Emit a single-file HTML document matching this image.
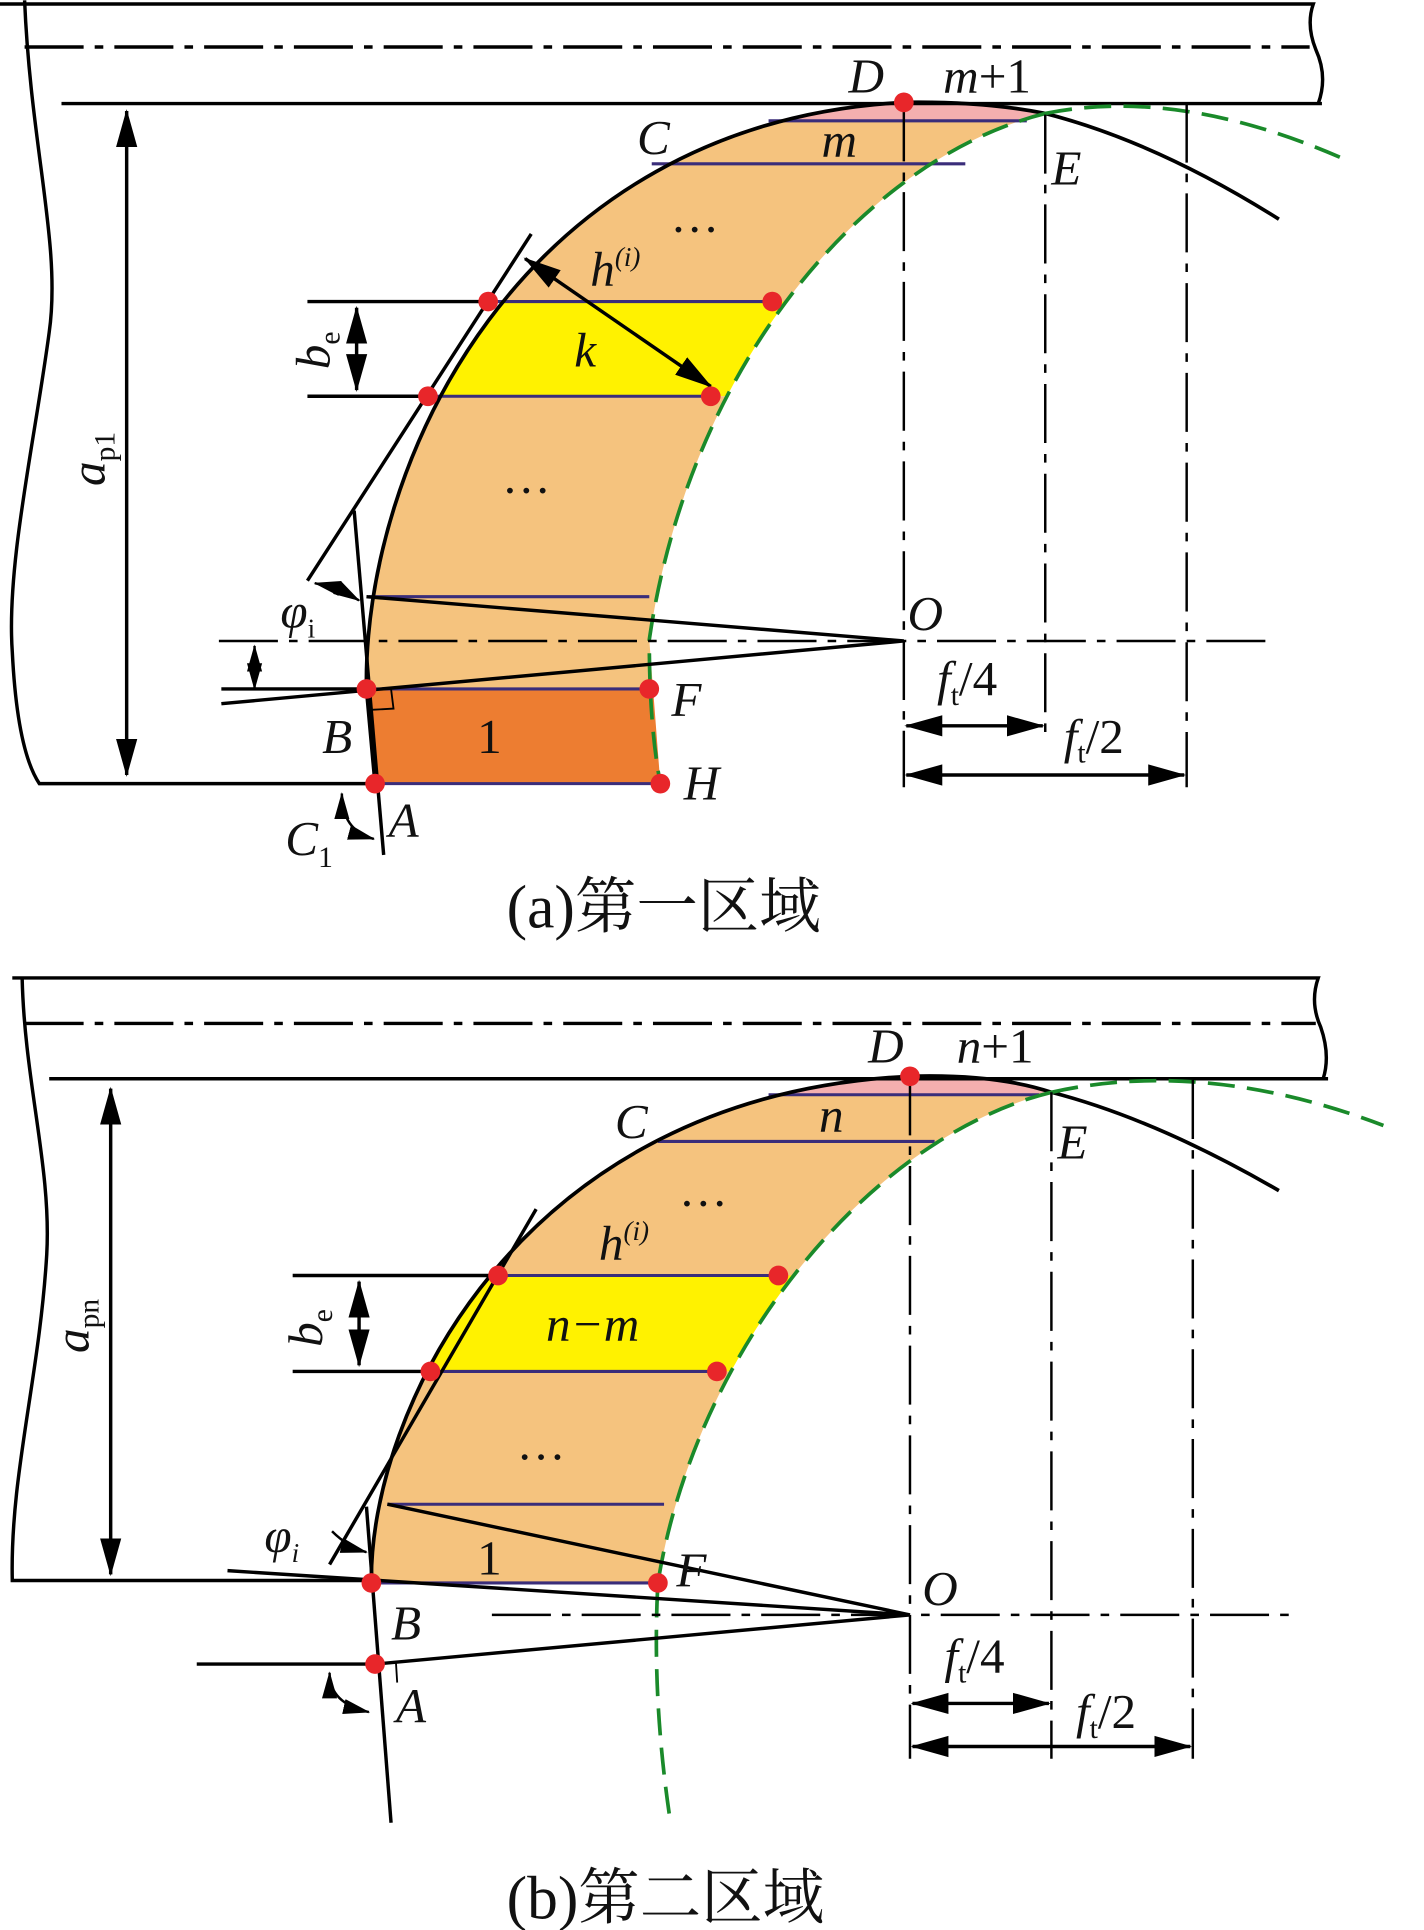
<!DOCTYPE html>
<html><head><meta charset="utf-8"><style>
html,body{margin:0;padding:0;background:#fff}
svg{display:block}
text{font-family:"Liberation Serif","Noto Serif CJK SC",serif;fill:#111}
.it{font-style:italic}
</style></head><body>
<svg width="1424" height="1930" viewBox="0 0 1158 1569" xmlns="http://www.w3.org/2000/svg">
<defs>
<marker id="ar" viewBox="0 0 10 10" refX="9.5" refY="5" markerWidth="11" markerHeight="11" orient="auto-start-reverse"><path d="M0,2.2 L10,5 L0,7.8 Z" fill="#000"/></marker>
<clipPath id="ca"><path d="M305,637 L298,560 C295,380 420,100 735,83 Q800,82 850,92 C700,130 560,300 528,520 L537,637 Z"/></clipPath>
<clipPath id="cb"><path d="M302,1287 C300,1150 420,890 740,875 Q810,873 855,888 C705,925 565,1100 535,1287 Z"/></clipPath>
</defs>
<g stroke="#000" stroke-width="2.8" fill="none">
<g clip-path="url(#ca)" stroke="none">
<rect x="250" y="70" width="650" height="28" fill="#F4AFAF"/>
<rect x="250" y="98" width="650" height="147" fill="#F5C37E"/>
<rect x="250" y="245" width="650" height="77" fill="#FFF200"/>
<rect x="250" y="322" width="650" height="238" fill="#F5C37E"/>
<rect x="250" y="560" width="650" height="80" fill="#ED7D31"/>
</g>
<path d="M0,3 H1068 Q1062,20 1070,40 Q1080,62 1072,84"/>
<path d="M20,38 H1065" stroke-dasharray="48,9,7,9"/>
<path d="M50,84 H1075"/>
<path d="M20,0 C25,120 50,200 40,270 C28,360 5,460 10,530 Q14,610 32,637 H305"/>
<path d="M103,90 V630" marker-start="url(#ar)" marker-end="url(#ar)"/>
<g stroke="#3a2d7a" stroke-width="2.5">
<path d="M625,98 H835 M530,133 H785 M395,245 H628 M348,322 H578 M300,485 H528 M298,560 H528 M305,637 H537"/>
</g>
<path d="M305,637 L298,560 C295,380 420,100 735,83 Q800,82 850,92 Q940,115 1040,178" stroke-width="3"/>
<path d="M850,92 C700,130 560,300 528,520 Q528,590 537,637 M850,92 Q960,70 1095,130" stroke="#1a8a2a" stroke-width="3" stroke-dasharray="22,10"/>
<path d="M735,83 V640 M850,93 V600 M965,84 V640" stroke-width="2" stroke-dasharray="48,9,7,9"/>
<path d="M178,521 H1030" stroke-width="2" stroke-dasharray="48,9,7,9"/>
<path d="M432,190 L250,472"/>
<path d="M288,415 L312,695"/>
<path d="M298,485 L735,521 M180,572 L735,521"/>
<path d="M180,560 H298"/>
<path d="M207,525 V560" stroke-width="2" marker-start="url(#ar)" marker-end="url(#ar)"/>
<path d="M256,474 Q275,478 292,488" stroke-width="2" marker-start="url(#ar)" marker-end="url(#ar)"/>
<path d="M300,560 L318,560 L320,576 L302,577" stroke-width="1.5"/>
<path d="M278,645 Q278,675 304,682" stroke-width="2" marker-start="url(#ar)" marker-end="url(#ar)"/>
<path d="M250,245 H395 M250,322 H348"/>
<path d="M290,250 V317" marker-start="url(#ar)" marker-end="url(#ar)"/>
<path d="M427,210 L578,314" marker-start="url(#ar)" marker-end="url(#ar)"/>
<path d="M737,590 H848" marker-start="url(#ar)" marker-end="url(#ar)"/>
<path d="M737,630 H963" marker-start="url(#ar)" marker-end="url(#ar)"/>
<g clip-path="url(#cb)" stroke="none">
<rect x="250" y="860" width="650" height="30" fill="#F4AFAF"/>
<rect x="250" y="890" width="650" height="147" fill="#F5C37E"/>
<rect x="250" y="1037" width="650" height="78" fill="#FFF200"/>
<rect x="250" y="1115" width="650" height="175" fill="#F5C37E"/>
</g>
<path d="M10,795 H1072 Q1065,815 1074,835 Q1082,858 1076,877"/>
<path d="M20,832 H1070" stroke-dasharray="48,9,7,9"/>
<path d="M40,877 H1080"/>
<path d="M18,795 C20,880 42,950 38,1020 C32,1120 8,1200 10,1285 H300"/>
<path d="M90,885 V1280" marker-start="url(#ar)" marker-end="url(#ar)"/>
<g stroke="#3a2d7a" stroke-width="2.5">
<path d="M625,890 H845 M535,928 H760 M405,1037 H633 M350,1115 H583 M315,1223 H540 M302,1287 H535"/>
</g>
<path d="M302,1287 C300,1150 420,890 740,875 Q810,873 855,888 Q940,910 1040,968" stroke-width="3"/>
<path d="M855,888 C705,925 565,1100 535,1287 Q530,1380 545,1480 M855,888 Q980,860 1125,915" stroke="#1a8a2a" stroke-width="3" stroke-dasharray="22,10"/>
<path d="M740,875 V1430 M855,888 V1430 M970,878 V1430" stroke-width="2" stroke-dasharray="48,9,7,9"/>
<path d="M400,1313 H1050" stroke-width="2" stroke-dasharray="48,9,7,9"/>
<path d="M436,983 L268,1272"/>
<path d="M298,1225 L318,1482"/>
<path d="M315,1223 L740,1313 M185,1277 L740,1313 M305,1353 L740,1313"/>
<path d="M160,1353 H305"/>
<path d="M305,1353 L322,1352 L323,1368" stroke-width="1.5"/>
<path d="M268,1360 Q268,1385 300,1392" stroke-width="2" marker-start="url(#ar)" marker-end="url(#ar)"/>
<path d="M270,1245 Q283,1258 298,1262" stroke-width="2" marker-end="url(#ar)"/>
<path d="M238,1037 H405 M238,1115 H350"/>
<path d="M292,1042 V1110" marker-start="url(#ar)" marker-end="url(#ar)"/>
<path d="M742,1385 H853" marker-start="url(#ar)" marker-end="url(#ar)"/>
<path d="M742,1420 H968" marker-start="url(#ar)" marker-end="url(#ar)"/>
</g>
<g fill="#e8262a">
<circle cx="735" cy="83" r="8"/><circle cx="397" cy="245" r="8"/><circle cx="628" cy="245" r="8"/>
<circle cx="348" cy="322" r="8"/><circle cx="578" cy="322" r="8"/><circle cx="298" cy="560" r="8"/>
<circle cx="528" cy="560" r="8"/><circle cx="305" cy="637" r="8"/><circle cx="537" cy="637" r="8"/>
<circle cx="740" cy="875" r="8"/><circle cx="405" cy="1037" r="8"/><circle cx="633" cy="1037" r="8"/>
<circle cx="350" cy="1115" r="8"/><circle cx="583" cy="1115" r="8"/><circle cx="302" cy="1287" r="8"/>
<circle cx="535" cy="1287" r="8"/><circle cx="305" cy="1353" r="8"/>
</g>
<g font-size="40">
<text x="690" y="75" class="it">D</text><text x="767" y="75"><tspan class="it">m</tspan>+1</text>
<text x="518" y="125" class="it">C</text><text x="668" y="127" class="it">m</text>
<text x="855" y="150" class="it">E</text>
<text x="480" y="232" class="it">h<tspan font-size="22" dy="-16">(i)</tspan></text><text x="545" y="200">···</text>
<text x="467" y="298" class="it">k</text>
<text x="408" y="412">···</text>
<text x="738" y="512" class="it">O</text>
<text x="546" y="582" class="it">F</text>
<text x="556" y="650" class="it">H</text>
<text x="262" y="612" class="it">B</text>
<text x="388" y="612">1</text>
<text x="316" y="680" class="it">A</text>
<text x="232" y="695" class="it">C<tspan font-size="24" dy="10" font-style="normal">1</tspan></text>
<text x="228" y="510" class="it">φ<tspan font-size="22" dy="8" font-style="normal">i</tspan></text>
<text x="762" y="565" class="it">f<tspan font-size="24" dy="8" font-style="normal">t</tspan><tspan dy="-8" font-style="normal">/4</tspan></text>
<text x="865" y="612" class="it">f<tspan font-size="24" dy="8" font-style="normal">t</tspan><tspan dy="-8" font-style="normal">/2</tspan></text>
<text transform="translate(268,300) rotate(-90)" class="it">b<tspan font-size="24" dy="8" font-style="normal">e</tspan></text>
<text transform="translate(85,395) rotate(-90)" class="it">a<tspan font-size="24" dy="8" font-style="normal">p1</tspan></text>
<text x="706" y="864" class="it">D</text><text x="778" y="864"><tspan class="it">n</tspan>+1</text>
<text x="500" y="925" class="it">C</text><text x="666" y="920" class="it">n</text>
<text x="860" y="942" class="it">E</text>
<text x="487" y="1024" class="it">h<tspan font-size="22" dy="-16">(i)</tspan></text><text x="552" y="992">···</text>
<text x="444" y="1090" class="it">n−m</text>
<text x="420" y="1198">···</text>
<text x="388" y="1280">1</text>
<text x="550" y="1290" class="it">F</text>
<text x="750" y="1305" class="it">O</text>
<text x="318" y="1333" class="it">B</text>
<text x="322" y="1400" class="it">A</text>
<text x="215" y="1262" class="it">φ<tspan font-size="22" dy="8">i</tspan></text>
<text x="768" y="1360" class="it">f<tspan font-size="24" dy="8" font-style="normal">t</tspan><tspan dy="-8" font-style="normal">/4</tspan></text>
<text x="875" y="1405" class="it">f<tspan font-size="24" dy="8" font-style="normal">t</tspan><tspan dy="-8" font-style="normal">/2</tspan></text>
<text transform="translate(262,1095) rotate(-90)" class="it">b<tspan font-size="24" dy="8" font-style="normal">e</tspan></text>
<text transform="translate(72,1100) rotate(-90)" class="it">a<tspan font-size="24" dy="8" font-style="normal">pn</tspan></text>
</g>
<g font-size="50">
<text x="412" y="754">(a)第一区域</text>
<text x="412" y="1560">(b)第二区域</text>
</g>
</svg>
</body></html>
